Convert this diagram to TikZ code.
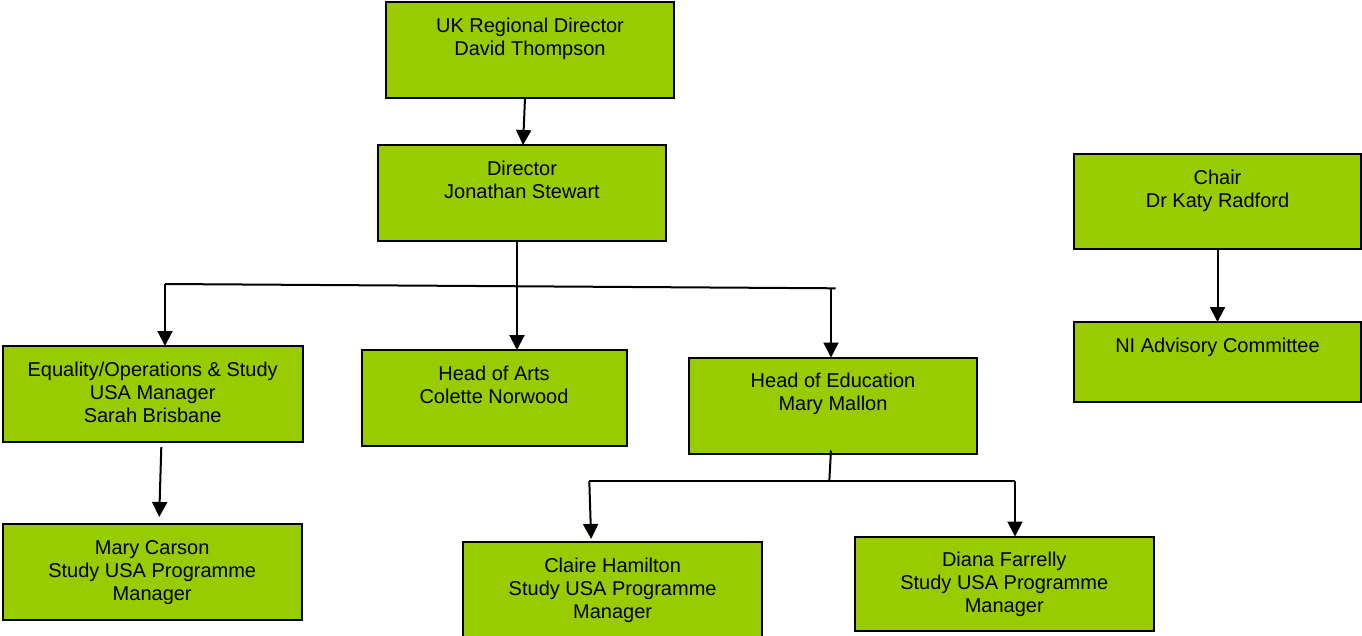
\documentclass[tikz,border=0pt]{standalone}
\usepackage{fontspec}
\setmainfont{Liberation Sans}
\usetikzlibrary{arrows.meta}
\definecolor{boxgreen}{HTML}{99CC00}
\tikzset{
  box/.style={draw=black, line width=2pt, fill=boxgreen, inner sep=0pt, outer sep=0pt, anchor=north west},
  txt/.style={inner sep=0pt, align=center, anchor=north, font={\fontsize{20}{23}\selectfont}},
  conn/.style={draw=black, line width=2pt},
  arr/.style={conn, -{Triangle[width=15pt,length=15pt]}}
}
\newcommand{\orgbox}[6]{%
  \node[box, minimum width=#4pt-#2pt, minimum height=#5pt-#3pt] (#1) at (#2,#3) {};
  \node[txt] (#1-t) at ([yshift=-13.9pt]#1.north) {#6};
}
\begin{document}
\begin{tikzpicture}[x=1pt,y=-1pt]
\useasboundingbox (0,0) rectangle (1362,635);
\clip (0,0) rectangle (1362,635);
\orgbox{uk}{386}{2}{674}{98}{\strut UK Regional Director\\\strut David Thompson}
\orgbox{dir}{378}{145}{666}{241}{\strut Director\\\strut Jonathan Stewart}
\orgbox{chair}{1074}{154}{1361}{249}{\strut Chair\\\strut Dr Katy Radford}
\orgbox{ni}{1074}{322}{1361}{402}{\strut NI Advisory Committee}
\orgbox{eq}{2.7}{346}{302.7}{442}{\strut Equality/Operations \& Study\\\strut USA Manager\\\strut Sarah Brisbane}
\orgbox{arts}{361.5}{350}{626.5}{446}{\strut Head of Arts\\\strut Colette Norwood}
\orgbox{edu}{689}{357.5}{977}{453.5}{\strut Head of Education\\\strut Mary Mallon}
\orgbox{carson}{2.7}{524}{301.7}{620}{\strut Mary Carson\\\strut Study USA Programme\\\strut Manager}
\orgbox{claire}{463}{542}{762.3}{645}{\strut Claire Hamilton\\\strut Study USA Programme\\\strut Manager}
\orgbox{diana}{854.5}{536.5}{1154}{631}{\strut Diana Farrelly\\\strut Study USA Programme\\\strut Manager}
% UK -> Director
\draw[arr] ([xshift=-5pt]uk.south) -- ([xshift=1pt]dir.north);
% Director branch
\coordinate (hl) at (165,284);
\coordinate (hr) at (835.6,288.3);
\coordinate (hrd) at (831,288);
\draw[conn] (hl) -- (hr);
\draw[arr] ([xshift=-5pt]dir.south) -- ([xshift=-5pt]dir.south |- arts.north);
\draw[arr] (hl) -- (hl |- eq.north);
\draw[arr] (hrd) -- (hrd |- edu.north);
% Chair -> NI
\draw[arr] (chair.south) -- (ni.north);
% Equality -> Carson
\draw[arr] ([xshift=8.6pt,yshift=-5pt]eq.south) -- ([xshift=7pt,yshift=7pt]carson.north);
% Education branch
\coordinate (ej) at (829.3,481);
\coordinate (el) at (589.3,481);
\coordinate (er) at (1015,481);
\draw[conn] ([xshift=-2pt,yshift=3pt]edu.south) -- (ej);
\draw[conn] (el) -- (er);
\draw[arr] (el) -- ([xshift=-21.5pt,yshift=3pt]claire.north);
\draw[arr] (er) -- (er |- diana.north);
\end{tikzpicture}
\end{document}
